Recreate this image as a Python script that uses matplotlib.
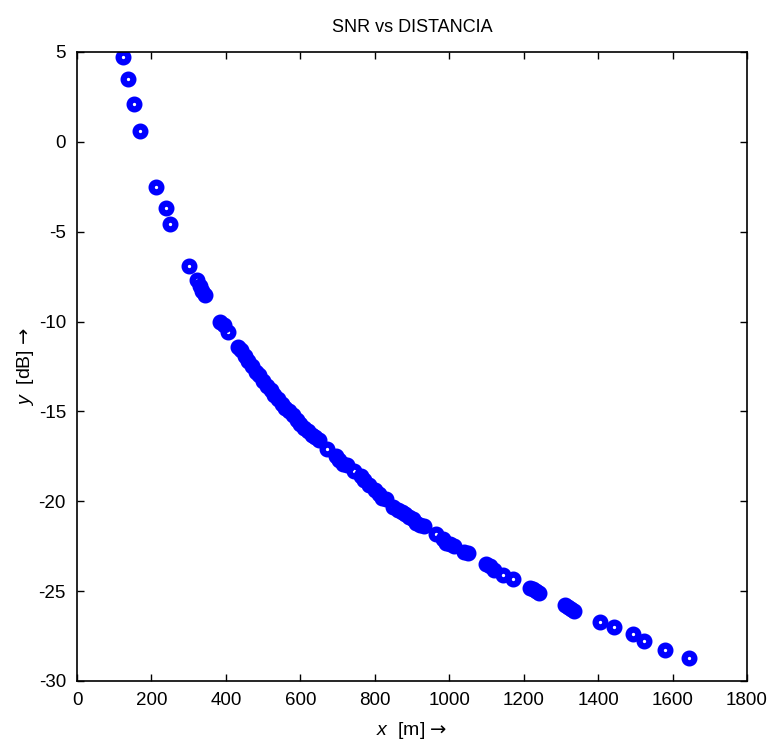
import numpy as np
import matplotlib
matplotlib.use("Agg")
import matplotlib.pyplot as plt

plt.rcParams['font.family'] = ['Liberation Sans', 'DejaVu Sans']
plt.rcParams['mathtext.fontset'] = 'custom'
plt.rcParams['mathtext.rm'] = 'Liberation Sans'
plt.rcParams['mathtext.it'] = 'Liberation Sans:italic'
plt.rcParams['mathtext.sf'] = 'DejaVu Sans'
plt.rcParams['axes.unicode_minus'] = False

# distance [m] and SNR [dB]
dist = [124, 137, 152, 170, 213, 238, 250, 301, 322, 330, 337, 344,
        385, 395, 406,
        433, 440, 450, 460, 470, 480, 490, 500, 510, 520, 530, 540, 550,
        560, 570, 580, 590, 600, 610, 620, 630, 640, 650,
        672, 695, 705, 715, 725, 745, 762, 772, 785, 800, 810, 820, 830,
        850, 862, 872, 882, 892, 902, 912, 922, 932,
        965, 982, 992, 1002, 1012, 1040, 1050,
        1100, 1110, 1120, 1145, 1170, 1217, 1225, 1233, 1240,
        1311, 1320, 1328, 1335, 1405, 1443, 1493, 1523, 1580, 1643]
snr = [4.7, 3.5, 2.1, 0.6, -2.5, -3.7, -4.6, -6.9, -7.7, -8.0, -8.3, -8.5,
       -10.0, -10.2, -10.6,
       -11.4, -11.6, -11.9, -12.2, -12.5, -12.8, -13.0, -13.3, -13.6, -13.8, -14.1, -14.3, -14.6,
       -14.8, -15.0, -15.2, -15.5, -15.7, -15.9, -16.1, -16.3, -16.4, -16.6,
       -17.1, -17.5, -17.7, -17.9, -18.0, -18.3, -18.6, -18.8, -19.1, -19.4, -19.6, -19.8, -19.9,
       -20.3, -20.5, -20.6, -20.7, -20.9, -21.0, -21.2, -21.3, -21.4,
       -21.8, -22.1, -22.3, -22.4, -22.5, -22.8, -22.9,
       -23.5, -23.6, -23.8, -24.1, -24.3, -24.8, -24.9, -25.0, -25.1,
       -25.8, -25.9, -26.0, -26.1, -26.7, -27.0, -27.4, -27.8, -28.3, -28.7]

fig = plt.figure(figsize=(7.71, 7.44), dpi=100)
ax = fig.add_axes([0.0999, 0.0847, 0.8690, 0.8455])

ax.plot(dist, snr, 'o', color='blue', markerfacecolor='none',
        markeredgecolor='blue', markersize=7, markeredgewidth=4.5)

ax.set_xlim(0, 1800)
ax.set_ylim(-30, 5)
ax.set_xticks(np.arange(0, 1801, 200))
ax.set_yticks(np.arange(-30, 6, 5))
ax.tick_params(direction='in', top=True, right=True, length=5, width=1,
               labelsize=13.5, pad=8)
for s in ax.spines.values():
    s.set_linewidth(1.2)

ax.set_title('SNR vs DISTANCIA', fontsize=13, pad=14)
ax.set_xlabel(r'$x$  [m] $\mathsf{→}$', fontsize=14, labelpad=8)
ax.set_ylabel(r'$y$  [dB] $\mathsf{→}$', fontsize=14, labelpad=2)

fig.savefig('out.png', dpi=100)
